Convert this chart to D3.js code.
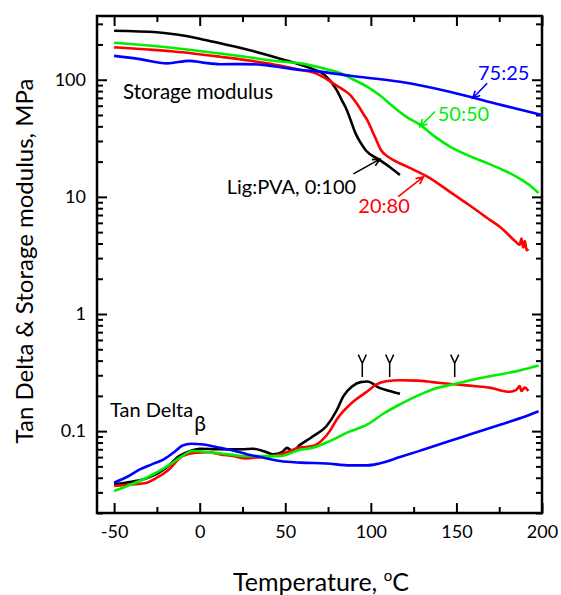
<!DOCTYPE html>
<html lang="en">
<head>
<meta charset="utf-8">
<title>Tan Delta & Storage modulus</title>
<script src="https://cdn.jsdelivr.net/npm/d3@7"></script>
<style>
  body { margin: 0; background: #fff; }
  svg text { font-family: Lato, "Open Sans", sans-serif; }
  .axis path { stroke: #000; stroke-width: 2.5px; }
  .axis line { stroke: #000; stroke-width: 2px; }
  .axis text { font-size: 18px; fill: #000; }
  .curve { fill: none; stroke-width: 2.6px; stroke-linejoin: round; }
</style>
</head>
<body>
<svg id="chart" width="561" height="595"></svg>
<script>
// storage modulus, MPa  [temperature, value]
var sm_0_100 = [[-50,262],[-25,254],[0,224],[8,211],[27,182],[50,147],[59,134],[65,125],[73,110],[80,82],[83,67],[86,55],[88,46],[91,35],[94,29],[97,25],[105,20.7],[111,18],[117,15.4]];
var sm_20_80 = [[-50,189],[-30,181],[-15,174],[12,157],[30,145],[47,132],[59,121],[66,116],[72,106],[78,93],[84,82],[88,74],[92,62],[96,50],[98,45],[101,36],[103,31],[106,25],[110,22],[113,20.7],[123,17.6],[133,14.9],[146,11.1],[157,8.6],[168,6.6],[177,5.3],[185,4.1],[187,3.9],[188,4.4],[189,3.7],[190,4.2],[191,3.5],[192,3.6]];
var sm_50_50 = [[-50,207],[-25,193],[-6,180],[20,162],[47,143],[59,138],[74,123],[82,114],[90,100],[98,87],[105,74],[113,59],[121,48],[129,41],[137,33],[146,27],[157,22.5],[168,19.4],[177,17],[185,14.9],[192,12.8],[198,10.8]];
var sm_75_25 = [[-50,160],[-35,150],[-19,138],[-6,145],[2,140],[12,135.5],[25,136],[37,134],[50,126],[59,121],[66,119],[88,108],[117,96],[146,79],[176,61],[200,50]];

// tan delta [temperature, value]
var td_0_100 = [[-50,0.0351],[-40,0.037],[-31,0.0395],[-20,0.048],[-12,0.0612],[-5,0.068],[0,0.0708],[10,0.07],[18,0.0698],[25,0.07],[31,0.0708],[38,0.067],[43,0.0633],[48,0.066],[51,0.072],[54,0.068],[59,0.077],[66,0.09],[74,0.11],[80,0.15],[84,0.199],[89,0.24],[94,0.262],[98,0.265],[105,0.234],[111,0.22],[117,0.208]];
var td_20_80 = [[-50,0.034],[-40,0.035],[-31,0.0363],[-25,0.04],[-19,0.0456],[-10,0.0612],[-2,0.0655],[5,0.066],[12,0.0633],[20,0.061],[27,0.0585],[35,0.06],[47,0.0633],[58,0.072],[66,0.0745],[72,0.085],[76,0.1],[80,0.125],[90,0.18],[98,0.219],[103,0.25],[109,0.267],[117,0.272],[127,0.27],[136,0.262],[150,0.25],[160,0.243],[170,0.234],[181,0.217],[185,0.225],[187,0.242],[188,0.22],[190,0.235],[192,0.22]];
var td_50_50 = [[-50,0.0308],[-40,0.035],[-31,0.04],[-20,0.049],[-13,0.0574],[-4,0.0676],[8,0.0655],[18,0.063],[27,0.0612],[47,0.0612],[58,0.0689],[66,0.072],[76,0.0822],[86,0.097],[98,0.114],[107,0.14],[117,0.169],[127,0.2],[136,0.227],[150,0.255],[162,0.28],[175,0.304],[187,0.33],[198,0.363]];
var td_75_25 = [[-50,0.0363],[-42,0.041],[-35,0.0471],[-28,0.052],[-21,0.0574],[-15,0.066],[-10,0.0755],[-5,0.078],[2,0.077],[12,0.072],[20,0.068],[28,0.0633],[38,0.059],[47,0.0555],[59,0.0538],[74,0.053],[88,0.051],[98,0.051],[105,0.053],[117,0.06],[130,0.069],[146,0.0822],[160,0.096],[176,0.114],[188,0.13],[198,0.148]];

var xTicks = [-50, 0, 50, 100, 150, 200];
var xMinor = [-25, 25, 75, 125, 175];
var yTicks = [0.1, 1, 10, 100];
var peakTemps = [95, 111, 149];   // "Y" markers on tan delta peaks

var series = [
  { sm: sm_0_100, td: td_0_100, color: "#000000" },
  { sm: sm_20_80, td: td_20_80, color: "#ff0000" },
  { sm: sm_50_50, td: td_50_50, color: "#00ee00" },
  { sm: sm_75_25, td: td_75_25, color: "#0000ff" }
];

var svg = d3.select("#chart");
var x = d3.scaleLinear().domain([-60, 200]).range([97, 542]);
var y = d3.scaleLog().domain([0.02, 350]).range([513, 16]);

// minor log ticks
var yMinor = [];
[0.01, 0.1, 1, 10, 100].forEach(function (d) {
  for (var k = 2; k <= 9; k++) {
    var v = d * k;
    if (v >= 0.02 && v <= 350) yMinor.push(v);
  }
});

function addAxis(axis, tr) {
  return svg.append("g").attr("class", "axis").attr("transform", tr).call(axis);
}

// bottom / top
addAxis(d3.axisBottom(x).tickValues(xTicks).tickSize(-10).tickPadding(12).tickFormat(function (d) { return String(d); }), "translate(0,513)");
addAxis(d3.axisBottom(x).tickValues(xMinor).tickSize(-6).tickFormat(""), "translate(0,513)");
addAxis(d3.axisTop(x).tickValues(xTicks).tickSize(-10).tickFormat(""), "translate(0,16)");
addAxis(d3.axisTop(x).tickValues(xMinor).tickSize(-6).tickFormat(""), "translate(0,16)");
// left / right
addAxis(d3.axisLeft(y).tickValues(yTicks).tickSize(-10).tickPadding(11).tickFormat(function (d) { return String(d); }), "translate(97,0)");
addAxis(d3.axisLeft(y).tickValues(yMinor).tickSize(-6).tickFormat(""), "translate(97,0)");
addAxis(d3.axisRight(y).tickValues(yTicks).tickSize(-10).tickFormat(""), "translate(542,0)");
addAxis(d3.axisRight(y).tickValues(yMinor).tickSize(-6).tickFormat(""), "translate(542,0)");
svg.selectAll(".axis .domain").attr("d", null);

svg.append("rect")
  .attr("x", 97).attr("y", 16).attr("width", 445).attr("height", 497)
  .attr("fill", "none").attr("stroke", "#000").attr("stroke-width", 2.5);

var line = d3.line()
  .x(function (d) { return x(d[0]); })
  .y(function (d) { return y(d[1]); })
  .curve(d3.curveMonotoneX);

series.forEach(function (s) {
  svg.append("path").attr("class", "curve").attr("stroke", s.color).attr("d", line(s.sm));
});
series.forEach(function (s) {
  svg.append("path").attr("class", "curve").attr("stroke", s.color).attr("d", line(s.td));
});

// Y-shaped peak markers
peakTemps.forEach(function (t) {
  var px = x(t), top = y(0.45), mid = y(0.38), bot = y(0.29);
  svg.append("path")
    .attr("d", "M" + (px - 4) + "," + top + "L" + px + "," + mid + "L" + (px + 4) + "," + top +
               "M" + px + "," + mid + "L" + px + "," + bot)
    .attr("fill", "none").attr("stroke", "#000").attr("stroke-width", 1.5);
});

// labels with arrows  (positions in data units)
var notes = [
  { text: "75:25", color: "#0000ff", at: [162.6, 99.6], from: [168, 93.3], to: [159.5, 69.5] },
  { text: "50:50", color: "#00ee00", at: [139.1, 44.8], from: [137.5, 53.5], to: [128.7, 39.8] },
  { text: "Lig:PVA, 0:100", color: "#000000", at: [15.8, 10.6], from: [89.8, 15.7], to: [105.3, 21.0] },
  { text: "20:80", color: "#ff0000", at: [92.7, 7.27], from: [116.0, 10.07], to: [130.7, 14.8] }
];

notes.forEach(function (n) {
  svg.append("text")
    .attr("x", x(n.at[0])).attr("y", y(n.at[1]))
    .attr("font-size", 20).attr("fill", n.color).text(n.text);
  var x1 = x(n.from[0]), y1 = y(n.from[1]), x2 = x(n.to[0]), y2 = y(n.to[1]);
  var a = Math.atan2(y2 - y1, x2 - x1), h = 8, w = 0.45;
  svg.append("path")
    .attr("d", "M" + x1 + "," + y1 + "L" + x2 + "," + y2 +
      "M" + (x2 - h * Math.cos(a - w)) + "," + (y2 - h * Math.sin(a - w)) + "L" + x2 + "," + y2 +
      "L" + (x2 - h * Math.cos(a + w)) + "," + (y2 - h * Math.sin(a + w)))
    .attr("fill", "none").attr("stroke", n.color).attr("stroke-width", 1.6);
});

svg.append("text").attr("x", x(-44.8)).attr("y", y(68.2))
  .attr("font-size", 20.5).text("Storage modulus");

svg.append("text").attr("x", x(-52.4)).attr("y", y(0.1327))
  .attr("font-size", 20).text("Tan Delta");
svg.append("text").attr("x", x(-3.2)).attr("y", y(0.1))
  .attr("font-size", 21).text("\u03B2");

// axis titles
svg.append("text")
  .attr("transform", "translate(33,261) rotate(-90)")
  .attr("text-anchor", "middle").attr("font-size", 24)
  .text("Tan Delta & Storage modulus, MPa");

var xt = svg.append("text")
  .attr("x", 321).attr("y", 591)
  .attr("text-anchor", "middle").attr("font-size", 25);
xt.append("tspan").text("Temperature, ");
xt.append("tspan").attr("dy", -10).attr("font-size", 15).text("o");
xt.append("tspan").attr("dy", 10).text("C");
</script>
</body>
</html>
